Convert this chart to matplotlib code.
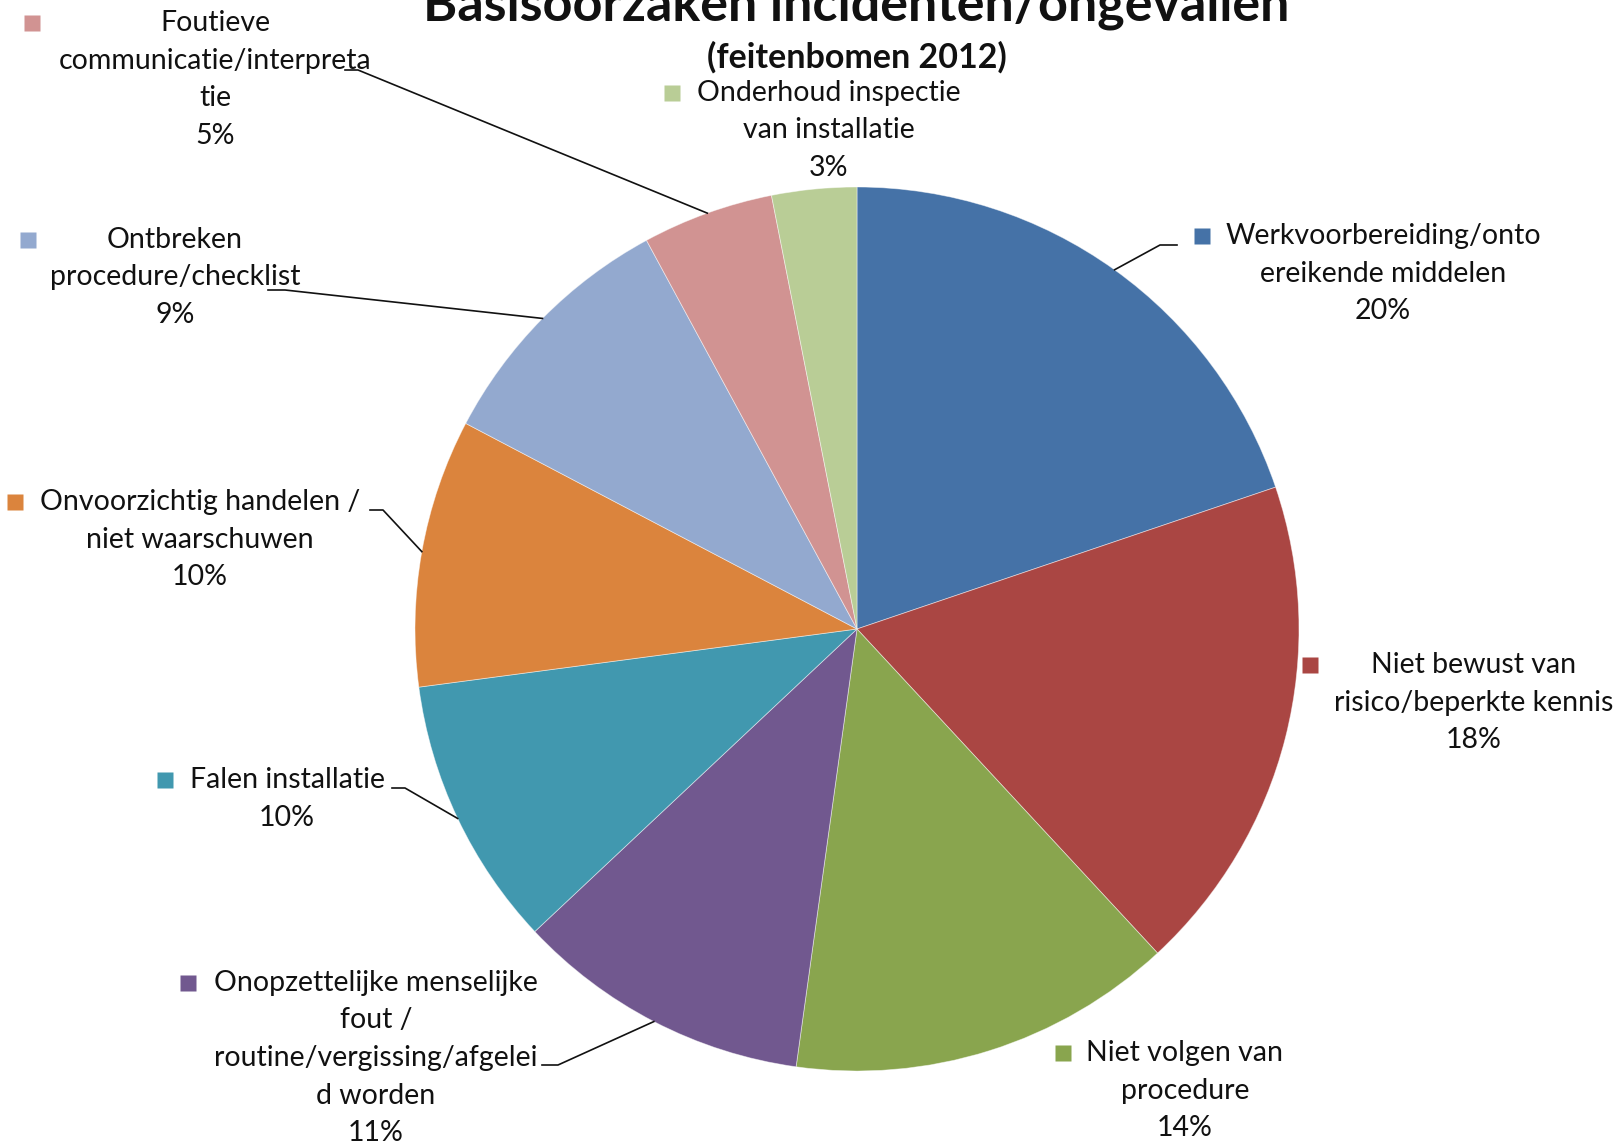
import matplotlib
matplotlib.use('Agg')
import matplotlib.pyplot as plt
import numpy as np

# data (clockwise from 12 o'clock)
categories = ['Werkvoorbereiding/onto\nereikende middelen',
              'Niet bewust van\nrisico/beperkte kennis',
              'Niet volgen van\nprocedure',
              'Onopzettelijke menselijke\nfout /\nroutine/vergissing/afgelei\nd worden',
              'Falen installatie',
              'Onvoorzichtig handelen /\nniet waarschuwen',
              'Ontbreken\nprocedure/checklist',
              'Foutieve\ncommunicatie/interpreta\ntie',
              'Onderhoud inspectie\nvan installatie']
shares = [19.8, 18.3, 14.1, 10.8, 9.9, 9.8, 9.4, 4.8, 3.1]
pct_labels = ['20%', '18%', '14%', '11%', '10%', '10%', '9%', '5%', '3%']
colors = ['#4572A7', '#AA4643', '#89A54E', '#71588F', '#4198AF',
          '#DB843D', '#93A9CF', '#D19392', '#B9CD96']

title = 'Basisoorzaken incidenten/ongevallen'
subtitle = '(feitenbomen 2012)'

W, H = 1621, 1142

def Y(y):
    # pixel rows are measured from the top
    return H - y

fig = plt.figure(figsize=(W / 100, H / 100), dpi=100)
ax = fig.add_axes([0, 0, 1, 1])

cx, cy, r = 857, Y(629), 442
wedges, _ = ax.pie(shares, colors=colors, startangle=90, counterclock=False,
                   center=(cx, cy), radius=r,
                   wedgeprops=dict(linewidth=0.6, edgecolor=(1, 1, 1, 0.5)))

ax.set_xlim(0, W)
ax.set_ylim(0, H)
ax.set_aspect('equal')
ax.axis('off')

# label layout: text centre, legend square, leader start points
layout = [
    ((1383, 236), (1202, 236), [(1177, 245), (1160, 245)]),
    ((1474, 665), (1310, 665), None),
    ((1185, 1053), (1063, 1053), None),
    ((376, 983), (188, 983), [(542, 1065), (558, 1065)]),
    ((287, 780), (165, 780), [(392, 788), (405, 788)]),
    ((200, 502), (15, 502), [(370, 510), (383, 510)]),
    ((175, 240), (28, 240), [(268, 290), (285, 290)]),
    ((215, 23), (32, 23), [(345, 70), (358, 70)]),
    ((829, 93), (672, 93), None),
]

font = 'Lato'
txt_color = '#111111'
step = 37.5

for i, w in enumerate(wedges):
    (tx, ty), (sx, sy), lead = layout[i]
    lines = (categories[i] + '\n' + pct_labels[i]).split('\n')
    for k, line in enumerate(lines):
        ax.text(tx, Y(ty + k * step), line, ha='center', va='center',
                fontsize=20.5, family=font, color=txt_color)
    ax.plot(sx, Y(sy), marker='s', ms=12, color=colors[i], mec='none')
    if lead:
        theta = np.deg2rad((w.theta1 + w.theta2) / 2)
        px = [p[0] for p in lead] + [cx + r * np.cos(theta)]
        py = [Y(p[1]) for p in lead] + [cy + r * np.sin(theta)]
        ax.plot(px, py, color='#111111', lw=1.2)

ax.text(856, Y(21), title, ha='center', va='baseline', fontsize=37.5,
        fontweight='bold', family=font, color=txt_color)
ax.text(857, Y(57), subtitle, ha='center', va='center', fontsize=24.5,
        fontweight='bold', family=font, color=txt_color)

plt.savefig('out.png', dpi=100)
plt.close()
